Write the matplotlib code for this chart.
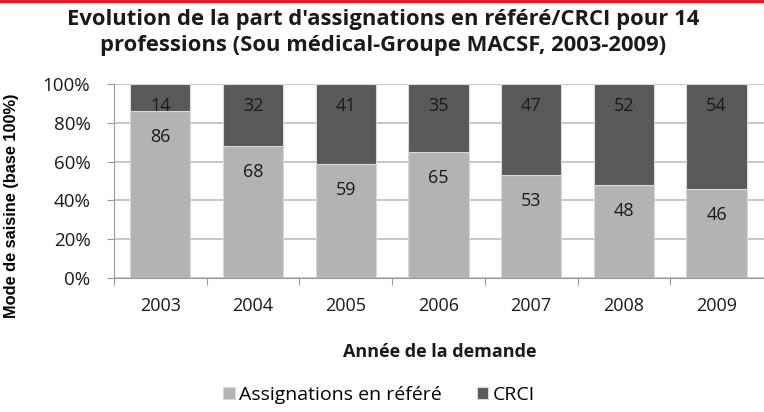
import matplotlib
matplotlib.use("Agg")
import matplotlib.pyplot as plt

years = ["2003", "2004", "2005", "2006", "2007", "2008", "2009"]
assignations = [86, 68, 59, 65, 53, 48, 46]
crci = [14, 32, 41, 35, 47, 52, 54]
yticks = [0, 20, 40, 60, 80, 100]
ytick_labels = ["0%", "20%", "40%", "60%", "80%", "100%"]

light = "#b3b3b3"
dark = "#595959"
font = "Open Sans"
txt = "#1a1a1a"

W, H = 764, 412
fig = plt.figure(figsize=(W / 100, H / 100), dpi=100)
left = 114
ax = fig.add_axes([left / W, (H - 278) / H, (W - left) / W, (278 - 84) / H])

x = list(range(len(years)))
ax.bar(x, assignations, width=0.65, color=light, edgecolor="#d8d8d8", linewidth=0.8, zorder=2,
       label="Assignations en référé")
ax.bar(x, crci, bottom=assignations, width=0.65, color=dark, edgecolor="#d8d8d8", linewidth=0.8,
       zorder=2, label="CRCI")

for i in x:
    ax.annotate(str(assignations[i]), (i, assignations[i]), xytext=(0, -26),
                textcoords="offset pixels", ha="center", va="center",
                fontsize=13, family=font, color=txt, zorder=3)
    ax.annotate(str(crci[i]), (i, 100), xytext=(0, -22),
                textcoords="offset pixels", ha="center", va="center",
                fontsize=13, family=font, color=txt, zorder=3)

# right edge of the category axis is just outside the picture
ax.set_xlim(-0.5, -0.5 + (W - left) / 92.7)
ax.set_ylim(0, 100)
ax.set_yticks(yticks)
ax.set_yticklabels(ytick_labels, family=font, fontsize=13.5, color=txt)
ax.set_xticks([i - 0.5 for i in x], minor=False)
ax.set_xticklabels([])
ax.set_xticks(x, minor=True)
ax.set_xticklabels(years, minor=True, family=font, fontsize=13, color=txt)
ax.tick_params(axis="x", which="minor", length=0, pad=14)
ax.tick_params(axis="x", which="major", length=5, color="#999999", direction="out")
ax.tick_params(axis="y", length=5, color="#999999", direction="out", pad=12)
ax.yaxis.grid(True, color="#bdbdbd", linewidth=1.2, zorder=0)
ax.set_axisbelow(True)
for s in ["top", "right"]:
    ax.spines[s].set_visible(False)
ax.spines["left"].set_color("#999999")
ax.spines["bottom"].set_color("#999999")

fig.text(383 / W, 1 - 19 / H, "Evolution de la part d'assignations en référé/CRCI pour 14",
         ha="center", va="center", fontsize=15.8, fontweight="bold", family=font, color=txt)
fig.text(383 / W, 1 - 46 / H, "professions (Sou médical-Groupe MACSF, 2003-2009)",
         ha="center", va="center", fontsize=15.8, fontweight="bold", family=font, color=txt)

fig.text(440 / W, 1 - 352 / H, "Année de la demande", ha="center", va="center",
         fontsize=13, fontweight="bold", family=font, color=txt)

fig.text(12 / W, 1 - 206 / H, "Mode de saisine (base 100%)", rotation=90, ha="center",
         va="center", fontsize=11.8, fontweight="bold", family="Liberation Sans", color="black")

fig.legend(loc="center", bbox_to_anchor=(379 / W, 1 - 395 / H), ncol=2, frameon=False,
           prop={"family": font, "size": 14}, handlelength=0.6, handleheight=0.6,
           handletextpad=0.2, columnspacing=1.8)

fig.add_artist(plt.Line2D([0, 1], [1 - 1 / H, 1 - 1 / H], color="#d7262c", linewidth=2.5))

fig.savefig("out.png", dpi=100)
